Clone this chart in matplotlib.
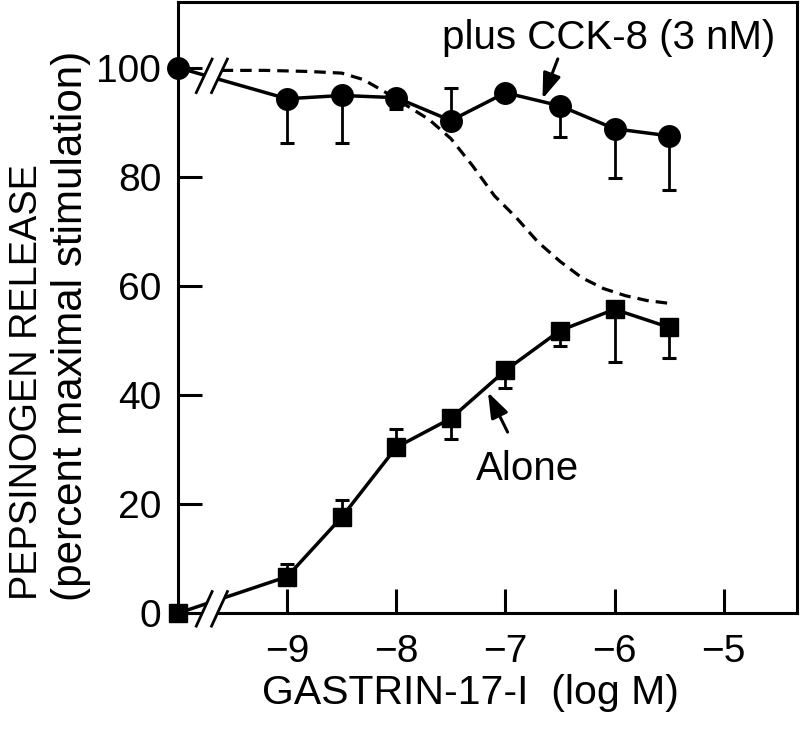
import matplotlib
matplotlib.use("Agg")
import matplotlib.pyplot as plt
from matplotlib.patches import Polygon

plt.rcParams['font.family'] = ['Liberation Sans', 'DejaVu Sans']

# ---- data ----
log_conc = [-10, -9, -8.5, -8, -7.5, -7, -6.5, -6, -5.5]

cck_mean = [100, 94.3, 94.9, 94.5, 90.3, 95.4, 93.0, 88.8, 87.5]
cck_err_lo = [0, 8.2, 8.8, 2.0, 0, 0, 5.8, 9.0, 10.0]
cck_err_hi = [0, 0, 0, 0, 5.9, 0, 0, 0, 0]

alone_mean = [0, 6.7, 17.6, 30.4, 35.7, 44.5, 51.8, 55.7, 52.4]
alone_err_lo = [0, 0, 0, 0, 3.8, 3.3, 2.9, 9.7, 5.7]
alone_err_hi = [0, 2.4, 3.1, 3.3, 0, 0, 0, 0, 0]

fit_x = [-9.6, -9.2, -8.8, -8.5, -8.3, -8.1, -7.9, -7.7, -7.5, -7.3, -7.1,
         -6.9, -6.7, -6.5, -6.3, -6.1, -5.9, -5.7, -5.5]
fit_y = [99.5, 99.5, 99.3, 99.0, 97.8, 95.5, 93.0, 90.5, 87.0, 82.0, 76.5,
         72.5, 68.0, 64.5, 61.5, 59.5, 58.2, 57.3, 56.8]

x_ticks = [-9, -8, -7, -6, -5]
x_ticklabels = ['\u22129', '\u22128', '\u22127', '\u22126', '\u22125']
y_ticks = [0, 20, 40, 60, 80, 100]
y_ticklabels = ['0', '20', '40', '60', '80', '100']

fig = plt.figure(figsize=(8, 7.3), dpi=100)
ax = fig.add_axes([0.2225, 0.160, 0.7735, 0.837])
ax.set_xlim(-10, -4.33)
ax.set_ylim(0, 112)

ax.plot(fit_x, fit_y, color='black', lw=2.3, linestyle=(0, (3.6, 2.2)), zorder=2)

ax.errorbar(log_conc, cck_mean, yerr=[cck_err_lo, cck_err_hi], fmt='-o',
            color='black', lw=2.5, markersize=15.5, capsize=4.8, elinewidth=2.0,
            capthick=2.2, clip_on=False, zorder=3)
ax.errorbar(log_conc, alone_mean, yerr=[alone_err_lo, alone_err_hi], fmt='-s',
            color='black', lw=2.5, markersize=13.5, capsize=4.8, elinewidth=2.0,
            capthick=2.2, clip_on=False, zorder=3)

# axis-break marks
def brk(xc, yc, half_h):
    sx = 0.078
    d = 0.14
    x1 = xc - d / 2
    x2 = xc + d / 2
    poly = Polygon([[x1 - sx, yc - half_h], [x1 + sx, yc + half_h],
                    [x2 + sx, yc + half_h], [x2 - sx, yc - half_h]],
                   closed=True, facecolor='white', edgecolor='none',
                   zorder=5, clip_on=False)
    ax.add_patch(poly)
    for xx in (x1, x2):
        ax.plot([xx - sx, xx + sx], [yc - half_h, yc + half_h], color='black',
                lw=2.0, zorder=6, clip_on=False, solid_capstyle='butt')

brk(-9.69, 98.5, 3.3)
brk(-9.69, 0.8, 3.4)

for s in ax.spines.values():
    s.set_linewidth(2.2)

ax.set_xticks(x_ticks)
ax.set_xticklabels(x_ticklabels)
ax.set_yticks(y_ticks)
ax.set_yticklabels(y_ticklabels)
ax.tick_params(direction='in', length=17, width=2.2, labelsize=28)
ax.tick_params(axis='y', pad=12)
ax.tick_params(axis='x', pad=15)

fig.text(470 / 800, (730 - 693) / 730, 'GASTRIN-17-I  (log M)', ha='center',
         va='center', fontsize=29.5)
fig.text(27 / 800, (730 - 600) / 730, 'PEPSINOGEN RELEASE', rotation=90,
         ha='center', va='bottom', fontsize=27.3)
fig.text(71 / 800, (730 - 601) / 730, '(percent maximal stimulation)',
         rotation=90, ha='center', va='bottom', fontsize=30.3)

ax.text(-6.055, 103.5, 'plus CCK-8 (3 nM)', fontsize=29, ha='center',
        va='baseline')
ax.annotate('', xy=(-6.66, 94.3), xytext=(-6.52, 101.6),
            arrowprops=dict(arrowstyle='-|>,head_length=0.7,head_width=0.25',
                            color='black', lw=2.2, mutation_scale=22,
                            shrinkA=0, shrinkB=0))
ax.text(-6.80, 24.4, 'Alone', fontsize=29, ha='center', va='baseline')
ax.annotate('', xy=(-7.16, 40.5), xytext=(-6.98, 33.2),
            arrowprops=dict(arrowstyle='-|>,head_length=0.7,head_width=0.25',
                            color='black', lw=2.2, mutation_scale=22,
                            shrinkA=0, shrinkB=0))

fig.savefig('out.png', dpi=100)
